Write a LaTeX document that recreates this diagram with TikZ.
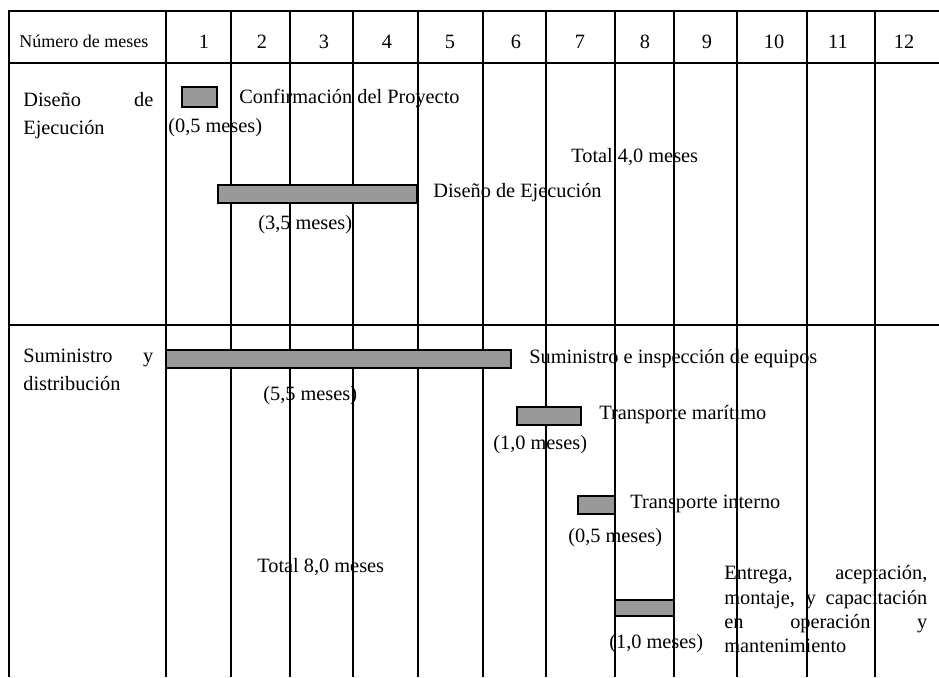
\documentclass[tikz,border=0pt]{standalone}
\usepackage{fontspec}
\setmainfont{Liberation Serif}
\usepackage{tikz}
\tikzstyle{grid} = [line width=0.9pt]
\tikzstyle{bar} = [draw=black, line width=0.8pt, fill=black!40]
\tikzstyle{txt} = [anchor=base west, inner sep=0pt, font=\fontsize{12.2}{14.6}\selectfont]
\tikzstyle{month} = [anchor=base, inner sep=0pt, font=\fontsize{12.2}{14.6}\selectfont]
\tikzstyle{head} = [anchor=base west, inner sep=0pt, font=\fontsize{10.8}{13}\selectfont]
\tikzstyle{phase} = [anchor=north west, inner sep=0pt, text width=78pt, align=justify, font=\fontsize{12.2}{16.4}\selectfont]
\tikzstyle{note} = [anchor=north west, inner sep=0pt, text width=121.8pt, align=justify, font=\fontsize{12.2}{14.6}\selectfont]

\begin{document}
\begin{tikzpicture}[x=0.6pt, y=-0.6pt]
    \useasboundingbox (0,0) rectangle (939,677);

    % grid
    \draw [grid] (939,11) -- (9,11) -- (9,677);
    \draw [grid] (9,63) -- (939,63);
    \draw [grid] (9,325) -- (939,325);
    \draw [grid] (166,11) -- (166,677);
    \draw [grid] (231,11) -- (231,677);
    \draw [grid] (290,11) -- (290,677);
    \draw [grid] (353,11) -- (353,677);
    \draw [grid] (418,11) -- (418,677);
    \draw [grid] (483,11) -- (483,677);
    \draw [grid] (546,11) -- (546,677);
    \draw [grid] (615,11) -- (615,677);
    \draw [grid] (674,11) -- (674,677);
    \draw [grid] (737,11) -- (737,677);
    \draw [grid] (807,11) -- (807,677);
    \draw [grid] (875,11) -- (875,677);

    % header
    \node (meses) [head] at (19,47) {Número de meses};
    \node (m1) [month] at (204,48) {1};
    \node (m2) [month] at (262,48) {2};
    \node (m3) [month] at (324,48) {3};
    \node (m4) [month] at (387,48) {4};
    \node (m5) [month] at (450,48) {5};
    \node (m6) [month] at (516,48) {6};
    \node (m7) [month] at (580,48) {7};
    \node (m8) [month] at (645,48) {8};
    \node (m9) [month] at (707,48) {9};
    \node (m10) [month] at (774,48) {10};
    \node (m11) [month] at (838,48) {11};
    \node (m12) [month] at (904,48) {12};

    % bars
    \draw [bar] (182,87) rectangle (217,107);
    \draw [bar] (218,185) rectangle (417,203);
    \draw [bar] (166,350) rectangle (511,368);
    \draw [bar] (517,407) rectangle (581,425);
    \draw [bar] (578,496) rectangle (615,514);
    \draw [bar] (615,600) rectangle (674,616);

    % diseno de ejecucion
    \node (disenio) [phase] at (23,92.5) {Diseño de\linebreak Ejecución};
    \node (confirm) [txt] at (239,103) {Confirmación del Proyecto};
    \node (confirm-d) [txt] at (168,132) {(0,5 meses)};
    \node (total1) [txt] at (571,162) {Total 4,0 meses};
    \node (ejec) [txt] at (433,197) {Diseño de Ejecución};
    \node (ejec-d) [txt] at (258,229) {(3,5 meses)};

    % suministro y distribucion
    \node (sumin) [phase] at (23,349) {Suministro y\linebreak distribución};
    \node (inspec) [txt] at (529,363) {Suministro e inspección de equipos};
    \node (inspec-d) [txt] at (263,400) {(5,5 meses)};
    \node (marit) [txt] at (599,419) {Transporte marítimo};
    \node (marit-d) [txt] at (493,449) {(1,0 meses)};
    \node (interno) [txt] at (630,508) {Transporte interno};
    \node (interno-d) [txt] at (568,542) {(0,5 meses)};
    \node (total2) [txt] at (257,572) {Total 8,0 meses};
    \node (entrega) [note] at (724,565.5) {Entrega, aceptación,\linebreak montaje, y capacitación\linebreak en operación y\linebreak mantenimiento};
    \node (entrega-d) [txt] at (609,648) {(1,0 meses)};
\end{tikzpicture}
\end{document}
